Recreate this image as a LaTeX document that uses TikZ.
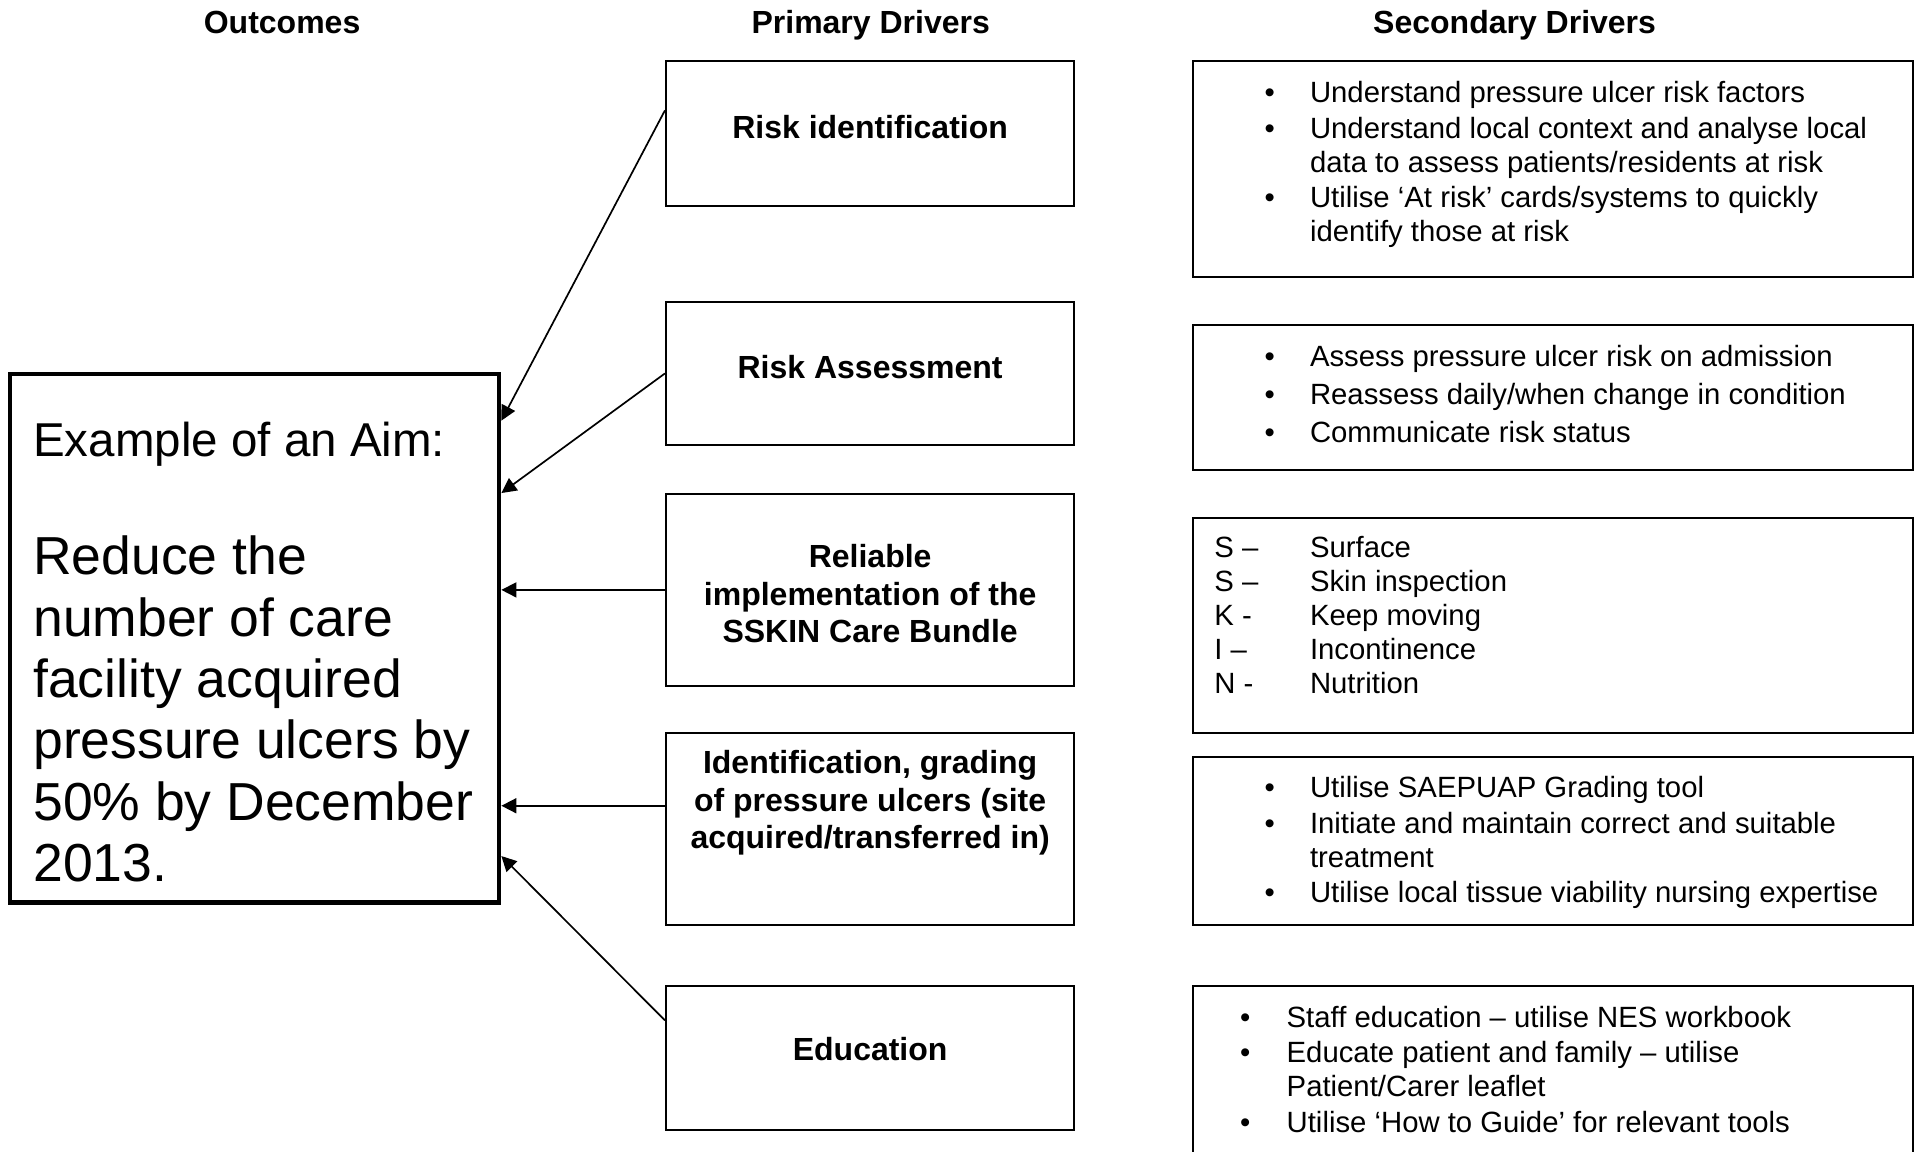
\documentclass[tikz,border=0pt]{standalone}
\usepackage{fontspec}
\setmainfont{Liberation Sans}
\usetikzlibrary{arrows.meta}
\begin{document}
\begin{tikzpicture}[x=1.2264pt,y=-1.2264pt,
  pbox/.style={draw, line width=2pt, minimum width=408.4pt, inner sep=0pt},
  sbox/.style={draw, line width=2pt, minimum width=719.9pt, inner sep=0pt},
  hdr/.style={font=\bfseries\fontsize{32}{37.4}\selectfont, anchor=base, inner sep=0pt},
  ptxt/.style={font=\bfseries\fontsize{32}{37.4}\selectfont, anchor=base, inner sep=0pt},
  stxt/.style={font=\fontsize{29.3}{34}\selectfont, anchor=base west, inner sep=0pt},
  arr/.style={line width=1.7pt, -{Triangle[length=15pt,width=15pt]}}
]
\clip (0,0) rectangle (1568,939);
\fill[white] (0,0) rectangle (1568,939);

% headers
\node[hdr] (h1) at (230,27.4) {Outcomes};
\node[hdr] (h2) at (710,27.4) {Primary Drivers};
\node[hdr] (h3) at (1235,27.4) {Secondary Drivers};

% aim box
\node[draw, line width=4.5pt, minimum width=489.3pt, minimum height=528.6pt, inner sep=0pt] (aim) at (207.5,520.5) {};
\node[font=\fontsize{53.5}{61.3}\selectfont, anchor=base west, inner sep=0pt] (aimtxt) at (27,372.5)
  {\begin{tabular}[t]{@{}l@{}}{\fontsize{47.5}{55}\selectfont Example of an Aim:}\\[56.7pt]Reduce the\\number of care\\facility acquired\\pressure ulcers by\\50\% by December\\2013.\end{tabular}};

% primary boxes
\node[pbox, minimum height=144.7pt] (p1) at (709.5,109) {};
\node[pbox, minimum height=143.5pt] (p2) at (709.5,304.5) {};
\node[pbox, minimum height=191.3pt] (p3) at (709.5,481) {};
\node[pbox, minimum height=191.3pt] (p4) at (709.5,676) {};
\node[pbox, minimum height=143.5pt] (p5) at (709.5,862.5) {};

\node[ptxt] (pt1) at (709.5,113) {Risk identification};
\node[ptxt] (pt2) at (709.5,309) {Risk Assessment};
\node[ptxt] (pt3) at (709.5,463) {\begin{tabular}[t]{@{}c@{}}Reliable\\implementation of the\\SSKIN Care Bundle\end{tabular}};
\node[ptxt] (pt4) at (709.5,631) {\begin{tabular}[t]{@{}c@{}}Identification, grading\\of pressure ulcers (site\\acquired/transferred in)\end{tabular}};
\node[ptxt] (pt5) at (709.5,865) {Education};

% secondary boxes
\node[sbox, minimum height=215.8pt] (s1) at (1266.5,138) {};
\node[sbox, minimum height=144.7pt] (s2) at (1266.5,324) {};
\node[sbox, minimum height=215.8pt] (s3) at (1266.5,510) {};
\node[sbox, minimum height=168pt] (s4) at (1266.5,685.5) {};
\node[sbox, minimum height=191.3pt] (s5) at (1266.5,882) {};

\node[stxt] (st1) at (1031,83.6) {\begin{tabular}[t]{@{}p{45.4pt}@{}l@{}}
• & Understand pressure ulcer risk factors\\[1.5pt]
• & Understand local context and analyse local\\
  & data to assess patients/residents at risk\\[1.5pt]
• & Utilise ‘At risk’ cards/systems to quickly\\
  & identify those at risk
\end{tabular}};

\node[stxt] (st2) at (1031,298.6) {\begin{tabular}[t]{@{}p{45.4pt}@{}l@{}}
• & Assess pressure ulcer risk on admission\\[4pt]
• & Reassess daily/when change in condition\\[4pt]
• & Communicate risk status
\end{tabular}};

\node[stxt] (st3) at (990,454.6) {\begin{tabular}[t]{@{}p{95.7pt}@{}l@{}}
S – & Surface\\
S – & Skin inspection\\
K - & Keep moving\\
I – & Incontinence\\
N - & Nutrition
\end{tabular}};

\node[stxt] (st4) at (1031,650.6) {\begin{tabular}[t]{@{}p{45.4pt}@{}l@{}}
• & Utilise SAEPUAP Grading tool\\[1.5pt]
• & Initiate and maintain correct and suitable\\
  & treatment\\[1.5pt]
• & Utilise local tissue viability nursing expertise
\end{tabular}};

\node[stxt] (st5) at (1011,837.6) {\begin{tabular}[t]{@{}p{46.6pt}@{}l@{}}
• & Staff education – utilise NES workbook\\[1.5pt]
• & Educate patient and family – utilise\\
  & Patient/Carer leaflet\\[1.5pt]
• & Utilise ‘How to Guide’ for relevant tools
\end{tabular}};

% connectors
\draw[arr] ([yshift=23.3pt]p1.west) -- ([yshift=217.7pt]aim.east);
\draw[arr] (p2.west) -- ([yshift=145.3pt]aim.east);
\draw[arr] (p3.west) -- (p3.west -| aim.east);
\draw[arr] ([yshift=23.3pt]p4.west) -- ([yshift=23.3pt]p4.west -| aim.east);
\draw[arr] ([yshift=37.4pt]p5.west) -- ([yshift=-217.7pt]aim.east);
\end{tikzpicture}
\end{document}
